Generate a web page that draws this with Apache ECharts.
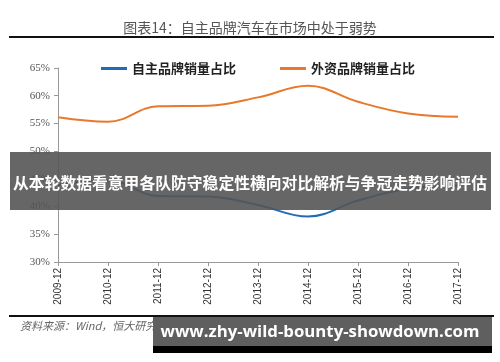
<!DOCTYPE html>
<html><head><meta charset="utf-8">
<script src="https://cdn.jsdelivr.net/npm/echarts@6/dist/echarts.min.js"></script>
<style>html,body{margin:0;padding:0;background:#fff}#c{width:500px;height:362px}</style>
</head><body><div id="c"></div>
<script>
const categories = ['2009-12','2010-12','2011-12','2012-12','2013-12','2014-12','2015-12','2016-12','2017-12'];
const domesticShare = [43.9, 44.7, 41.9, 41.8, 40.3, 38.2, 41.1, 43.2, 43.8];
const foreignShare = [56.1, 55.3, 58.1, 58.2, 59.7, 61.8, 58.9, 56.8, 56.2];
const seriesNames = ['自主品牌销量占比', '外资品牌销量占比'];
const yTicks = [30, 35, 40, 45, 50, 55, 60, 65];

const chart = echarts.init(document.getElementById('c'));
chart.setOption({
  animation: false,
  grid: {left: 58, right: 42, top: 68, bottom: 100},
  legend: {
    top: 57, left: 96, itemGap: 44, itemWidth: 26, itemHeight: 3,
    icon: 'rect',
    textStyle: {fontFamily: 'Noto Sans CJK SC', fontSize: 13, color: '#222', fontWeight: 'bold'},
    data: seriesNames
  },
  xAxis: {
    type: 'category', data: categories, boundaryGap: false,
    axisLine: {lineStyle: {color: '#999'}},
    axisTick: {show: true, alignWithLabel: true, length: 4, lineStyle: {color: '#999'}},
    axisLabel: {rotate: 90, fontSize: 10, color: '#333', fontFamily: 'Liberation Sans', margin: 6}
  },
  yAxis: {
    type: 'value', min: yTicks[0], max: yTicks[yTicks.length-1], interval: 5,
    axisLine: {show: true, lineStyle: {color: '#999'}},
    axisTick: {show: true, length: 4, lineStyle: {color: '#999'}},
    splitLine: {show: false},
    axisLabel: {formatter: '{value}%', fontSize: 11, color: '#555', fontFamily: 'Liberation Serif', margin: 8}
  },
  series: [
    {name: seriesNames[0], type: 'line', data: domesticShare, smooth: 0.4, symbol: 'none',
     itemStyle: {color: '#1f6db3'}, lineStyle: {width: 2, color: '#1f6db3'}},
    {name: seriesNames[1], type: 'line', data: foreignShare, smooth: 0.4, symbol: 'none',
     itemStyle: {color: '#e8782a'}, lineStyle: {width: 2, color: '#e8782a'}}
  ],
  graphic: [
    {type: 'text', left: 'center', top: 21, z: 10,
     style: {text: '图表14：自主品牌汽车在市场中处于弱势', fontFamily: 'Noto Sans CJK SC', fontSize: 14, fill: '#555'}},
    {type: 'rect', shape: {x: 9, y: 36, width: 485, height: 2}, style: {fill: '#111'}, z: 10},
    {type: 'rect', shape: {x: 9, y: 315, width: 485, height: 2}, style: {fill: '#111'}, z: 10},
    {type: 'text', left: 20, top: 320, z: 10,
     style: {text: '资料来源：Wind，恒大研究院', fontFamily: 'Noto Sans CJK SC', fontSize: 11, fontStyle: 'italic', fill: '#666'}},
    {type: 'text', left: 432, top: 319, z: 10,
     style: {text: '泽平宏观', fontFamily: 'Noto Sans CJK SC', fontSize: 12, fill: '#bbb'}},
    {type: 'rect', shape: {x: 10, y: 152, width: 481, height: 58}, style: {fill: 'rgba(85,85,85,0.9)'}, z: 20},
    {type: 'text', x: 250, y: 183, z: 21,
     style: {text: '从本轮数据看意甲各队防守稳定性横向对比解析与争冠走势影响评估', fontFamily: 'Noto Sans CJK SC', fontSize: 15.8, fontWeight: 'bold', fill: '#fff', align: 'center', verticalAlign: 'middle'}},
    {type: 'rect', shape: {x: 153, y: 317, width: 339, height: 36}, style: {fill: '#000'}, z: 20},
    {type: 'rect', shape: {x: 153, y: 317, width: 339, height: 29}, style: {fill: 'rgba(100,100,100,0.95)'}, z: 21},
    {type: 'text', x: 320, y: 332, z: 22,
     style: {text: 'www.zhy-wild-bounty-showdown.com', fontFamily: 'Open Sans', fontSize: 16.8, fontWeight: 'bold', fill: '#fff', align: 'center', verticalAlign: 'middle'}}
  ]
});
</script></body></html>
